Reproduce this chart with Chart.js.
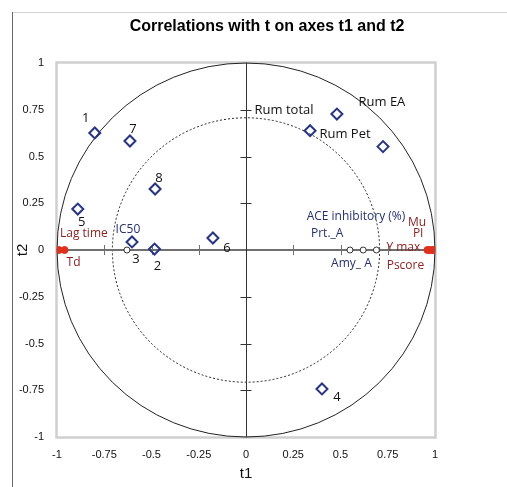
<!DOCTYPE html>
<html>
<head>
<meta charset="utf-8">
<script src="https://cdn.jsdelivr.net/npm/chart.js@4.4.1/dist/chart.umd.min.js"></script>
<style>
  html, body { margin: 0; padding: 0; background: #ffffff; }
  #wrap { width: 507px; height: 487px; }
</style>
</head>
<body>
<div id="wrap"><canvas id="c" width="507" height="487"></canvas></div>
<script>
// ---- Data ----
const titleText = 'Correlations with t on axes t1 and t2';
const xTitle = 't1';
const yTitle = 't2';

// Observations (blue diamonds)
const obsNames = ['1', '2', '3', '4', '5', '6', '7', '8', 'Rum total', 'Rum EA', 'Rum Pet'];
const obsT1 = [-0.80, -0.484, -0.603, 0.402, -0.89, -0.175, -0.614, -0.481, 0.339, 0.481, 0.725];
const obsT2 = [0.626, 0.005, 0.043, -0.743, 0.219, 0.064, 0.583, 0.326, 0.638, 0.727, 0.553];

// Supplementary variables (open circles)
const supNames = ['IC50', 'ACE inhibitory (%)', 'Prt._A', 'Amy_ A'];
const supT1 = [-0.63, 0.55, 0.62, 0.69];
const supT2 = [0, 0, 0, 0];

// Active variables (red dots)
const varNames = ['Lag time', 'Td', 'Mu', 'PI', 'Y max', 'Pscore'];
const varT1 = [-0.99, -0.96, 0.995, 0.985, 0.97, 0.96];
const varT2 = [0, 0, 0, 0, 0, 0];

// Tick values and labels
const tickValues = [-1, -0.75, -0.5, -0.25, 0, 0.25, 0.5, 0.75, 1];
const tickLabels = ['-1', '-0.75', '-0.5', '-0.25', '0', '0.25', '0.5', '0.75', '1'];
const innerCircleRadius = 0.707;

// ---- Label placement (pixel offsets from each point) ----
const obsOffsets = [[-9, -15], [3, 17], [4, 17], [15, 8], [4, 13], [14, 10], [3, -12], [4, -11], [-26, -20], [45, -12], [-38, -12]];
const supOffsets = [[1, -20], [6, -33], [-36, -16], [-25, 14]];
const varOffsets = [[25, -16], [9, 13], [-17, -27], [-14, -16], [-26, -2], [-22, 16]];

const NAVY = '#283583';
const DARKRED = '#8B2323';
const LABELNAVY = '#26306E';
const FONT = '"Liberation Sans", Arial, sans-serif';

function pts(xs, ys) { return xs.map((v, i) => ({ x: v, y: ys[i] })); }
function setTicks(s) { s.ticks = tickValues.map(v => ({ value: v })); }
function fmtTick(v) { const i = tickValues.findIndex(t => Math.abs(t - v) < 1e-9); return i >= 0 ? tickLabels[i] : ''; }

const geomPlugin = {
  id: 'geom',
  beforeDatasetsDraw(chart) {
    const { ctx, chartArea: a, scales: { x, y } } = chart;
    ctx.save();
    // outer frame lines
    ctx.strokeStyle = '#d4d4d4'; ctx.lineWidth = 1;
    ctx.beginPath(); ctx.moveTo(12, 12.5); ctx.lineTo(507, 12.5); ctx.stroke();
    ctx.strokeStyle = '#6a6a6a';
    ctx.beginPath(); ctx.moveTo(12.5, 12); ctx.lineTo(12.5, 487); ctx.stroke();
    // plot area border
    ctx.strokeStyle = '#cfcfcf'; ctx.lineWidth = 2.5;
    ctx.strokeRect(a.left - 0.5, a.top - 0.5, a.right - a.left + 1, a.bottom - a.top + 1);

    const cx = x.getPixelForValue(0), cy = y.getPixelForValue(0);
    const rx = x.getPixelForValue(1) - cx, ry = cy - y.getPixelForValue(1);
    // unit circle
    ctx.strokeStyle = '#222'; ctx.lineWidth = 1;
    ctx.beginPath(); ctx.ellipse(cx, cy, rx, ry, 0, 0, Math.PI * 2); ctx.stroke();
    // inner dotted circle
    ctx.setLineDash([2, 2]);
    ctx.beginPath(); ctx.ellipse(cx, cy, rx * innerCircleRadius, ry * innerCircleRadius, 0, 0, Math.PI * 2); ctx.stroke();
    ctx.setLineDash([]);

    // horizontal zero axis
    ctx.strokeStyle = '#707070'; ctx.lineWidth = 2;
    ctx.beginPath(); ctx.moveTo(a.left, cy); ctx.lineTo(a.right, cy); ctx.stroke();
    ctx.lineWidth = 1;
    tickValues.forEach(v => {
      if (v === 0 || Math.abs(v) === 1) return;
      const px = Math.round(x.getPixelForValue(v)) + 0.5;
      ctx.beginPath(); ctx.moveTo(px, cy - 5); ctx.lineTo(px, cy + 5); ctx.stroke();
    });
    // vertical zero axis
    ctx.strokeStyle = '#333';
    const vx = Math.round(cx) + 0.5;
    ctx.beginPath(); ctx.moveTo(vx, a.top); ctx.lineTo(vx, a.bottom); ctx.stroke();
    tickValues.forEach(v => {
      if (v === 0 || Math.abs(v) === 1) return;
      const py = Math.round(y.getPixelForValue(v)) + 0.5;
      ctx.beginPath(); ctx.moveTo(vx - 6, py); ctx.lineTo(vx + 5, py); ctx.stroke();
    });
    ctx.restore();
  },
  afterDraw(chart) {
    const { ctx } = chart;
    ctx.save();
    ctx.fillStyle = '#000';
    ctx.font = 'bold 16px ' + FONT;
    ctx.textAlign = 'center'; ctx.textBaseline = 'middle';
    ctx.fillText(titleText, 267, 27);
    ctx.restore();
  }
};

const labelPlugin = {
  id: 'pointLabels',
  afterDatasetsDraw(chart) {
    const { ctx } = chart;
    ctx.save();
    ctx.textAlign = 'center'; ctx.textBaseline = 'middle';
    chart.data.datasets.forEach((ds, di) => {
      const meta = chart.getDatasetMeta(di);
      ctx.font = ds.labelSize + 'px "Open Sans", sans-serif';
      ctx.fillStyle = ds.labelColor;
      meta.data.forEach((el, i) => {
        const off = ds.labelOffsets[i];
        ctx.fillText(ds.labelNames[i], el.x + off[0], el.y + off[1]);
      });
    });
    ctx.restore();
  }
};

new Chart(document.getElementById('c'), {
  type: 'scatter',
  data: {
    datasets: [
      {
        label: 'Supplementary',
        data: pts(supT1, supT2),
        labelNames: supNames, labelOffsets: supOffsets, labelColor: LABELNAVY, labelSize: 12,
        pointStyle: 'circle', pointRadius: 3, borderWidth: 1,
        borderColor: '#333', backgroundColor: '#fff'
      },
      {
        label: 'Variables',
        data: pts(varT1, varT2),
        labelNames: varNames, labelOffsets: varOffsets, labelColor: DARKRED, labelSize: 12,
        pointStyle: 'circle', pointRadius: 3.5, borderWidth: 1,
        borderColor: '#E0301E', backgroundColor: '#E0301E'
      },
      {
        label: 'Observations',
        data: pts(obsT1, obsT2),
        labelNames: obsNames, labelOffsets: obsOffsets, labelColor: '#111', labelSize: 13,
        pointStyle: 'rectRot', pointRadius: 5.5, borderWidth: 2,
        borderColor: NAVY, backgroundColor: 'rgba(255,255,255,0)'
      }
    ]
  },
  options: {
    responsive: false,
    animation: false,
    events: [],
    layout: { padding: { left: 12, right: 72, top: 63, bottom: 0 } },
    plugins: { legend: { display: false }, tooltip: { enabled: false }, title: { display: false } },
    scales: {
      x: {
        type: 'linear', min: -1, max: 1,
        grid: { display: false, drawTicks: false },
        border: { display: false },
        afterBuildTicks: setTicks,
        ticks: { callback: fmtTick, autoSkip: false, maxRotation: 0, padding: 11, color: '#111', font: { family: FONT, size: 11 } },
        title: { display: true, text: xTitle, color: '#111', padding: { top: 2, bottom: 4 }, font: { family: FONT, size: 15 } },
        afterFit(s) { s.height = 50; }
      },
      y: {
        type: 'linear', min: -1, max: 1,
        grid: { display: false, drawTicks: false },
        border: { display: false },
        afterBuildTicks: setTicks,
        ticks: { callback: fmtTick, autoSkip: false, padding: 13, color: '#111', font: { family: FONT, size: 11 } },
        title: { display: true, text: yTitle, color: '#111', padding: { top: 2, bottom: 2 }, font: { family: FONT, size: 15 } },
        afterFit(s) { s.width = 45; }
      }
    }
  },
  plugins: [geomPlugin, labelPlugin]
});
</script>
</body>
</html>
